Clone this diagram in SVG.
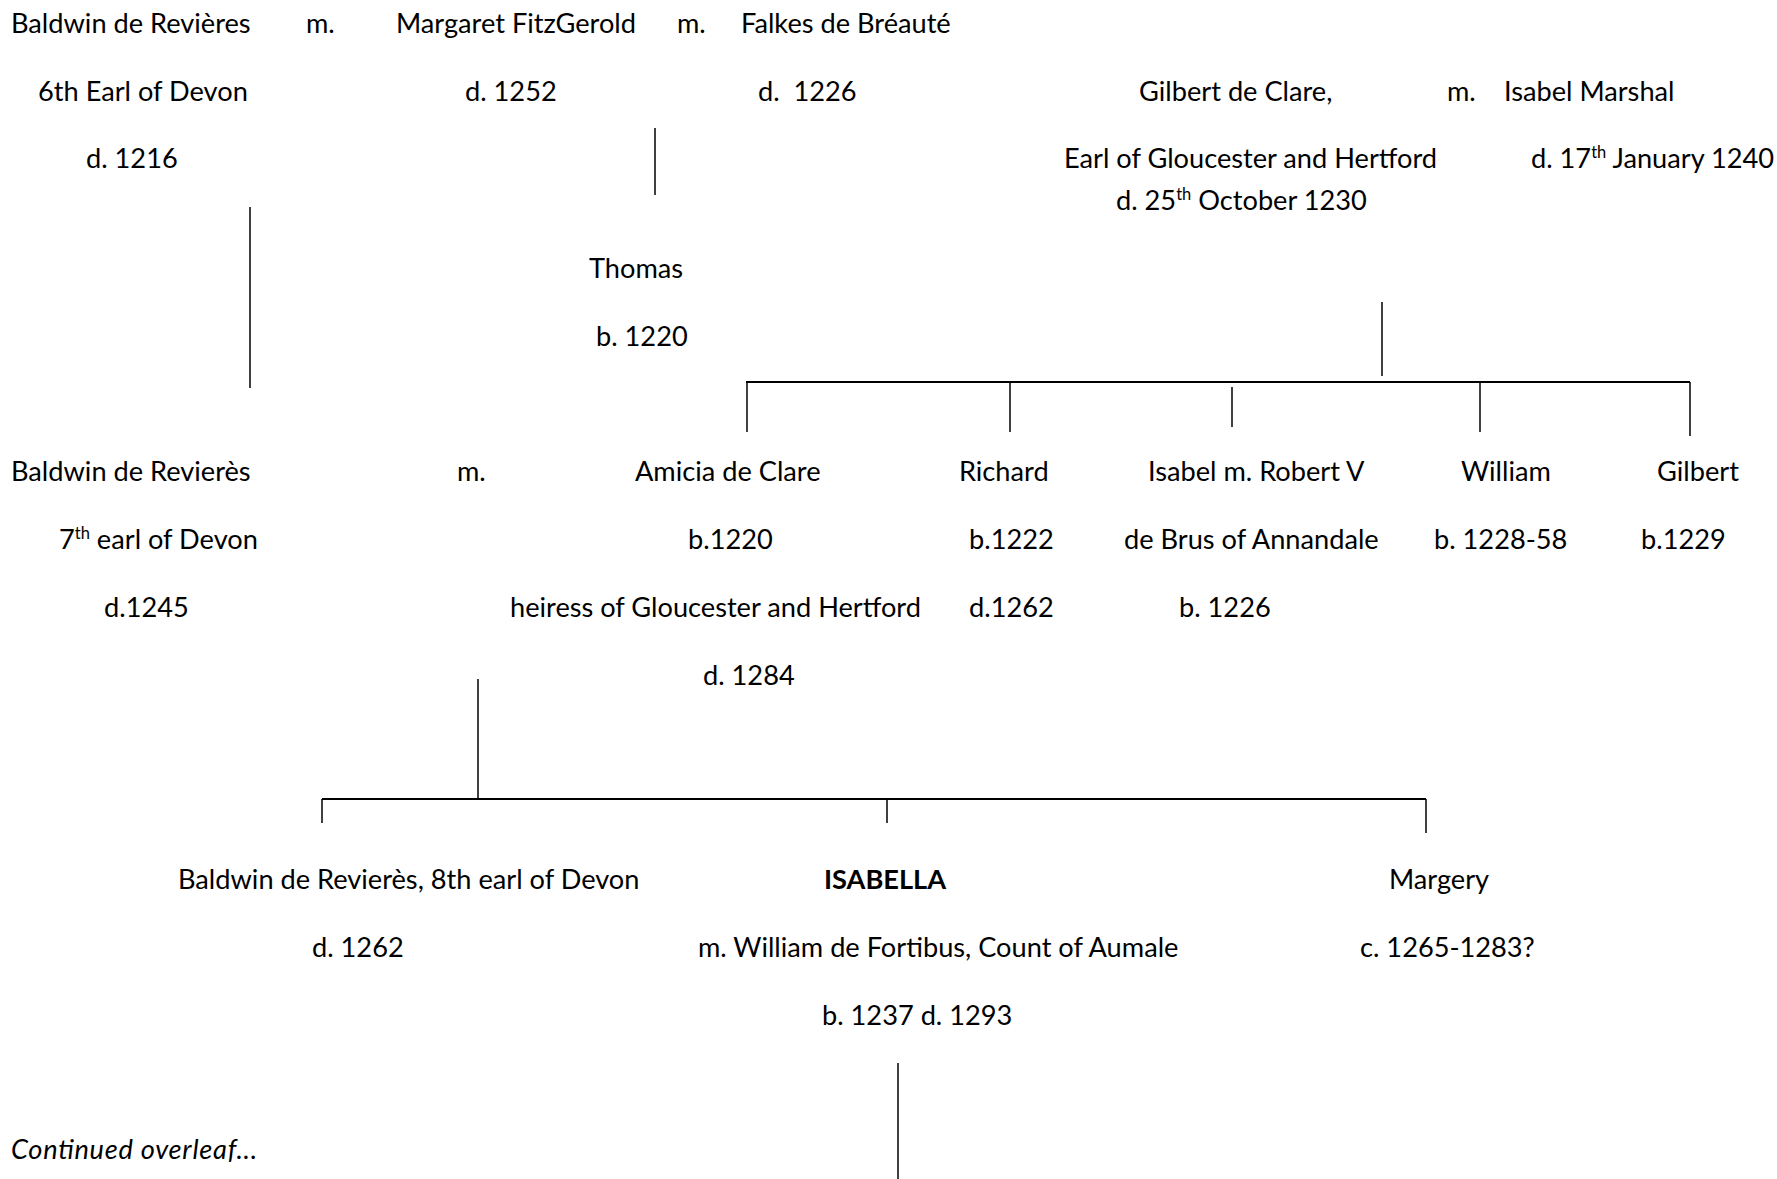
<svg xmlns="http://www.w3.org/2000/svg" width="1777" height="1179" viewBox="0 0 1777 1179">
<style>
text{font-family:Lato,"Liberation Sans",sans-serif;font-size:27.2px;fill:#000}
.b{font-weight:bold}
.i{font-style:italic}
.sup{font-size:16.5px}
.v{stroke:#000;stroke-width:1.5;fill:none}
.h{stroke:#000;stroke-width:2.2;fill:none}
</style>
<rect width="1777" height="1179" fill="#fff"/>
<g id="connectors">
<line class="v" x1="655" y1="128" x2="655" y2="195"/>
<line class="v" x1="250" y1="207" x2="250" y2="388"/>
<line class="v" x1="1382" y1="302" x2="1382" y2="376"/>
<line class="h" x1="746" y1="382" x2="1690" y2="382"/>
<line class="v" x1="747" y1="382" x2="747" y2="432"/>
<line class="v" x1="1010" y1="382" x2="1010" y2="432"/>
<line class="v" x1="1232" y1="387" x2="1232" y2="427"/>
<line class="v" x1="1480" y1="382" x2="1480" y2="432"/>
<line class="v" x1="1690" y1="382" x2="1690" y2="436"/>
<line class="v" x1="478" y1="679" x2="478" y2="800"/>
<line class="h" x1="322" y1="799" x2="1426" y2="799"/>
<line class="v" x1="322" y1="799" x2="322" y2="823"/>
<line class="v" x1="887" y1="799" x2="887" y2="823"/>
<line class="v" x1="1426" y1="799" x2="1426" y2="833"/>
<line class="v" x1="898" y1="1063" x2="898" y2="1179"/>
</g>
<g id="baldwin6">
<text x="11" y="33">Baldwin de Revières</text>
<text x="38" y="101">6th Earl of Devon</text>
<text x="86" y="168">d. 1216</text>
</g>
<g id="m1"><text x="306" y="33">m.</text></g>
<g id="margaret">
<text x="396" y="33">Margaret FitzGerold</text>
<text x="465" y="101">d. 1252</text>
</g>
<g id="m2"><text x="677" y="33">m.</text></g>
<g id="falkes">
<text x="741" y="33">Falkes de Bréauté</text>
<text x="758" y="101" xml:space="preserve">d.  1226</text>
</g>
<g id="gilbertclare">
<text x="1139" y="101">Gilbert de Clare,</text>
<text x="1064" y="168">Earl of Gloucester and Hertford</text>
<text x="1116" y="210">d. 25<tspan class="sup" dy="-10">th</tspan><tspan dy="10"> October 1230</tspan></text>
</g>
<g id="m3"><text x="1447" y="101">m.</text></g>
<g id="isabelmarshal">
<text x="1504" y="101">Isabel Marshal</text>
<text x="1531" y="168">d. 17<tspan class="sup" dy="-10">th</tspan><tspan dy="10"> January 1240</tspan></text>
</g>
<g id="thomas">
<text x="589" y="278">Thomas</text>
<text x="596" y="346">b. 1220</text>
</g>
<g id="baldwin7">
<text x="11" y="481">Baldwin de Revierès</text>
<text x="59" y="549">7<tspan class="sup" dy="-10">th</tspan><tspan dy="10"> earl of Devon</tspan></text>
<text x="104" y="617">d.1245</text>
</g>
<g id="m4"><text x="457" y="481">m.</text></g>
<g id="amicia">
<text x="635" y="481">Amicia de Clare</text>
<text x="688" y="549">b.1220</text>
<text x="510" y="617">heiress of Gloucester and Hertford</text>
<text x="703" y="685">d. 1284</text>
</g>
<g id="richard">
<text x="959" y="481">Richard</text>
<text x="969" y="549">b.1222</text>
<text x="969" y="617">d.1262</text>
</g>
<g id="isabel">
<text x="1148" y="481">Isabel m. Robert V</text>
<text x="1124" y="549">de Brus of Annandale</text>
<text x="1179" y="617">b. 1226</text>
</g>
<g id="william">
<text x="1461" y="481">William</text>
<text x="1434" y="549">b. 1228-58</text>
</g>
<g id="gilbert">
<text x="1657" y="481">Gilbert</text>
<text x="1641" y="549">b.1229</text>
</g>
<g id="baldwin8">
<text x="178" y="889">Baldwin de Revierès, 8th earl of Devon</text>
<text x="312" y="957">d. 1262</text>
</g>
<g id="isabella">
<text class="b" x="824" y="889">ISABELLA</text>
<text x="698" y="957">m. William de Fortibus, Count of Aumale</text>
<text x="822" y="1025">b. 1237 d. 1293</text>
</g>
<g id="margery">
<text x="1389" y="889">Margery</text>
<text x="1360" y="957">c. 1265-1283?</text>
</g>
<g id="continued"><text class="i" x="11" y="1159" textLength="246" lengthAdjust="spacing">Continued overleaf...</text></g>
</svg>
